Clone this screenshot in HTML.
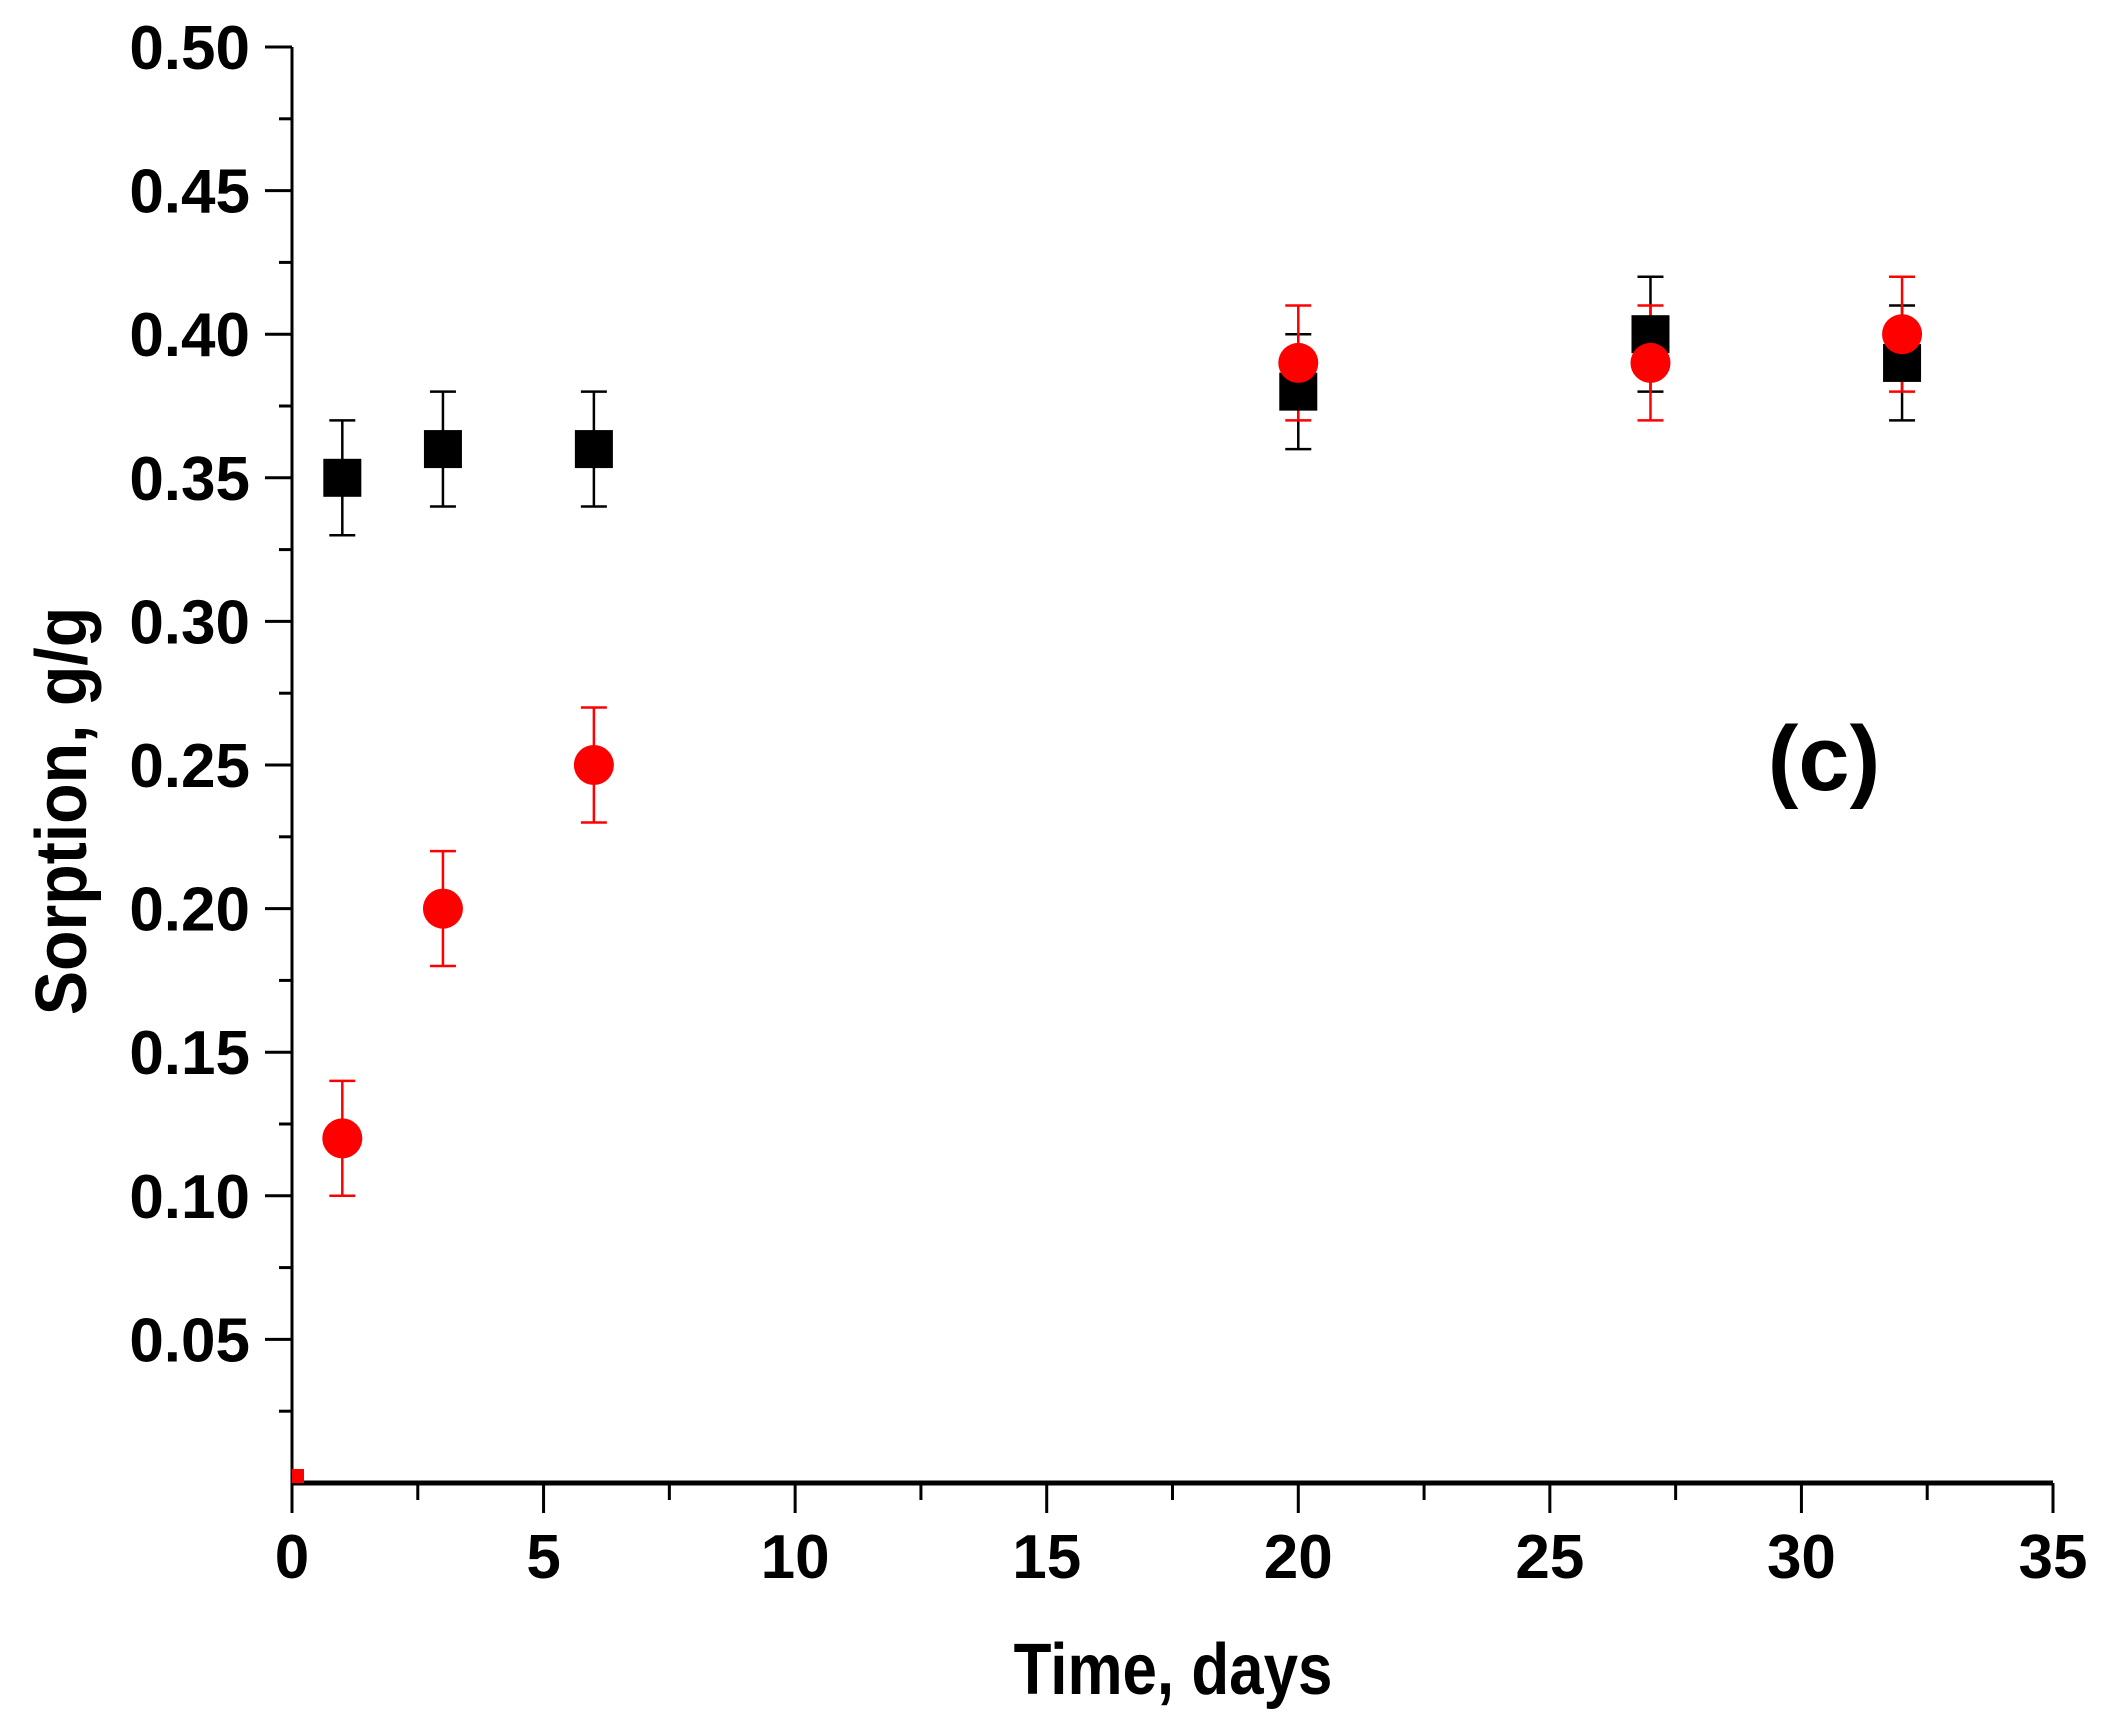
<!DOCTYPE html>
<html><head><meta charset="utf-8"><style>
html,body{margin:0;padding:0;background:#fff}
svg{display:block}
text{font-family:"Liberation Sans",Arial,sans-serif;font-weight:bold;fill:#000}
</style></head><body>
<svg id="chart" width="2103" height="1735" viewBox="0 0 2103 1735" xmlns="http://www.w3.org/2000/svg">
<g id="axes"></g>
<g id="marks"></g>
<text x="0" y="0" text-anchor="middle" font-size="72" transform="translate(1173 1694) scale(0.86 1)">Time, days</text>
<text x="0" y="0" text-anchor="middle" font-size="72" transform="translate(86 811) rotate(-90) scale(0.92 1)">Sorption, g/g</text>
<text x="1824" y="790" text-anchor="middle" font-size="92">(c)</text>
</svg>
<script>
const xTicks = [0,5,10,15,20,25,30,35];
const yTicks = [0.05,0.10,0.15,0.20,0.25,0.30,0.35,0.40,0.45,0.50];
const days = [1,3,6,20,27,32];
const seriesBlack = [0.35,0.36,0.36,0.38,0.40,0.39];
const errBlack = [0.02,0.02,0.02,0.02,0.02,0.02];
const seriesRed = [0.12,0.20,0.25,0.39,0.39,0.40];
const errRed = [0.02,0.02,0.02,0.02,0.02,0.02];

const NS="http://www.w3.org/2000/svg";
const X0=292,X1=2053,Y0=1483,Y1=47;
const xs=v=>X0+(v/35)*(X1-X0);
const ys=v=>Y0-(v/0.5)*(Y0-Y1);
function mk(tag,attrs,parent){const e=document.createElementNS(NS,tag);for(const k in attrs)e.setAttribute(k,attrs[k]);parent.appendChild(e);return e;}
const axes=document.getElementById('axes'),marks=document.getElementById('marks');

let l=mk('line',{x1:X0,y1:Y1,x2:X0,y2:Y0+2,stroke:'#000','stroke-width':3},axes);


l=mk('line',{x1:X0,y1:Y0,x2:X1,y2:Y0,stroke:'#000','stroke-width':5},axes);



yTicks.forEach(v=>{
  const t=mk('line',{x1:X0-27,y1:ys(v),x2:X0,y2:ys(v),stroke:'#000','stroke-width':3},axes);
  
  
  const m=mk('line',{x1:X0-13,y1:ys(v-0.025),x2:X0,y2:ys(v-0.025),stroke:'#000','stroke-width':3},axes);
  
  
  const tx=mk('text',{x:0,y:0,'text-anchor':'end','font-size':62,transform:`translate(250 ${ys(v)+22})`},axes);
  tx.textContent=v.toFixed(2);
  
  
});
xTicks.forEach(v=>{
  const t=mk('line',{x1:xs(v),y1:Y0,x2:xs(v),y2:Y0+30,stroke:'#000','stroke-width':3},axes);
  
  
  if(v<35){const m=mk('line',{x1:xs(v+2.5),y1:Y0,x2:xs(v+2.5),y2:Y0+17,stroke:'#000','stroke-width':3},axes);
  
  }
  const tx=mk('text',{x:0,y:0,'text-anchor':'middle','font-size':62,transform:`translate(${xs(v)} 1578)`},axes);
  tx.textContent=String(v);
  
  
});

function errbar(x,y,e,color,name){
  const g=mk('g',{stroke:color,'stroke-width':2.5},marks);
  
  
  mk('line',{x1:xs(x),y1:ys(y-e),x2:xs(x),y2:ys(y+e)},g);
  mk('line',{x1:xs(x)-13,y1:ys(y-e),x2:xs(x)+13,y2:ys(y-e)},g);
  mk('line',{x1:xs(x)-13,y1:ys(y+e),x2:xs(x)+13,y2:ys(y+e)},g);
}
days.forEach((d,i)=>errbar(d,seriesBlack[i],errBlack[i],'#000','error-bar-black'));
days.forEach((d,i)=>errbar(d,seriesRed[i],errRed[i],'#f00','error-bar-red'));
days.forEach((d,i)=>{
  const r=mk('rect',{x:xs(d)-19,y:ys(seriesBlack[i])-19,width:38,height:38,fill:'#000'},marks);
  
  
});
days.forEach((d,i)=>{
  const c=mk('circle',{cx:xs(d),cy:ys(seriesRed[i]),r:20,fill:'#f00'},marks);
  
  
});
const o=mk('rect',{x:X0,y:Y0-14,width:12,height:14,fill:'#f00'},marks);


</script>
</body></html>
